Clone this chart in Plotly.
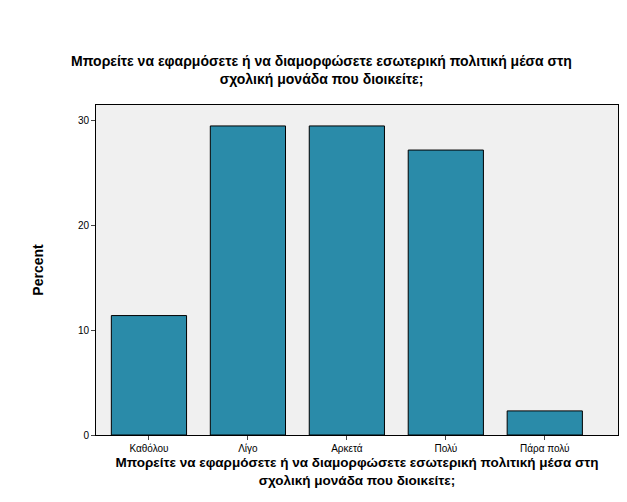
import plotly.graph_objects as go

categories = ["Καθόλου", "Λίγο", "Αρκετά", "Πολύ", "Πάρα πολύ"]
percent = [11.4, 29.5, 29.5, 27.2, 2.3]
title = "Μπορείτε να εφαρμόσετε ή να διαμορφώσετε εσωτερική πολιτική μέσα στη<br>σχολική μονάδα που διοικείτε;"

fig = go.Figure(go.Bar(x=list(range(len(categories))), y=percent,
                       marker=dict(color="#2a8ba9", line=dict(color="black", width=1))))
fig.update_layout(
    width=627, height=502,
    margin=dict(l=88, r=17, t=97, b=75, autoexpand=False),
    paper_bgcolor="white", plot_bgcolor="#f0f0f0",
    bargap=0.24, showlegend=False,
    font=dict(family="Arial, Liberation Sans", color="black"),
    title=dict(text="<b>" + title + "</b>", x=0.5, xanchor="center", y=0.885, yanchor="middle",
               font=dict(size=14)),
)
fig.update_xaxes(tickvals=list(range(len(categories))), ticktext=categories,
                 range=[-0.535, 4.74], showline=True, linecolor="black", mirror=True,
                 ticks="outside", ticklen=4, tickfont=dict(size=10), automargin=False,
                 title=dict(text="<b>" + title + "</b>", font=dict(size=13.5), standoff=4))
fig.update_yaxes(range=[0, 31.5], tickvals=[0, 10, 20, 30], showline=True, linecolor="black",
                 mirror=True, ticks="outside", ticklen=4, showgrid=False, zeroline=False,
                 tickfont=dict(size=10), automargin=False,
                 title=dict(text="<b>Percent</b>", font=dict(size=14), standoff=30))
fig.write_html("out.html")
